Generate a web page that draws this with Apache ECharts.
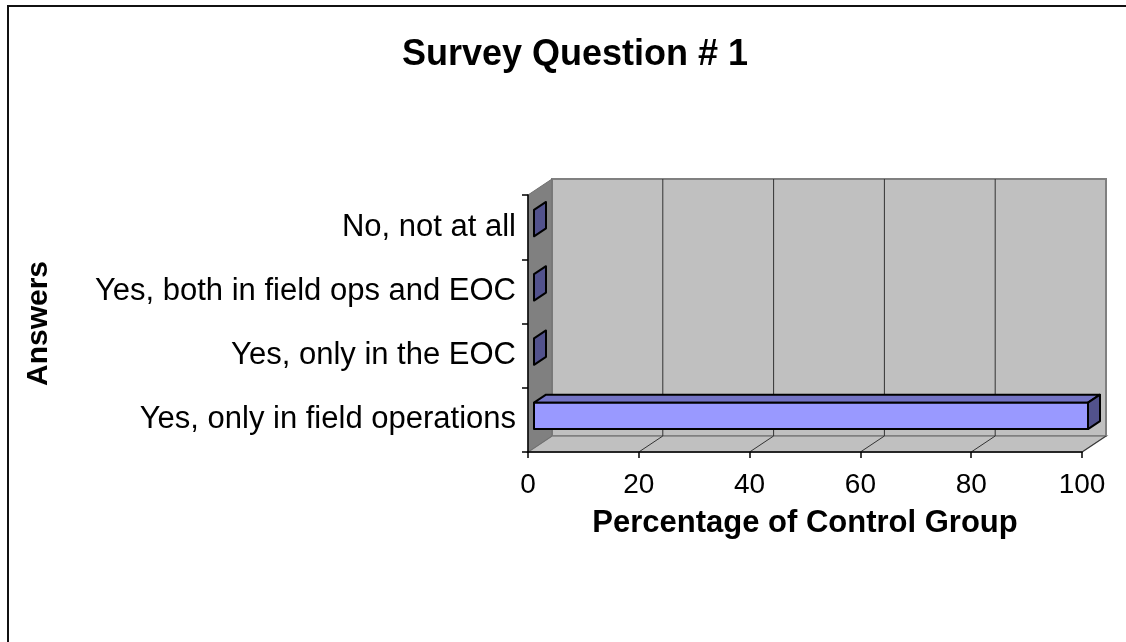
<!DOCTYPE html>
<html>
<head>
<meta charset="utf-8">
<title>Survey Question # 1</title>
<script src="https://cdn.jsdelivr.net/npm/echarts@6/dist/echarts.min.js"></script>
<style>
  html, body { margin: 0; padding: 0; background: #ffffff; }
  #chart { width: 1126px; height: 642px; }
</style>
</head>
<body>
<div id="chart"></div>
<script>
// Answer categories, listed bottom to top on the vertical axis
const categories = [
  'Yes, only in field operations',
  'Yes, only in the EOC',
  'Yes, both in field ops and EOC',
  'No, not at all'
];
// Percentage of the control group giving each answer
const percentages = [100, 0, 0, 0];
// Value axis ticks
const valueTicks = [0, 20, 40, 60, 80, 100];

const FONT = "'Liberation Sans', Arial, Helvetica, sans-serif";
// Depth of the 3-D box (offset of the back plane from the front plane)
const DEPTH_X = 24;
const DEPTH_Y = -16;
// Front and back of each bar as fractions of the box depth
const BAR_FRONT = 0.25;
const BAR_BACK = 0.75;
const BAR_THICKNESS = 0.41;

const chart = echarts.init(document.getElementById('chart'), null, { renderer: 'canvas' });

// Walls, floor and gridlines of the 3-D plot box
function renderWalls(params, api) {
  const cs = params.coordSys;
  const x0 = cs.x, x1 = cs.x + cs.width;
  const yT = cs.y, yB = cs.y + cs.height;
  const children = [];
  // back wall
  children.push({
    type: 'rect',
    shape: { x: x0 + DEPTH_X, y: yT + DEPTH_Y, width: x1 - x0, height: yB - yT },
    style: { fill: '#c0c0c0', stroke: '#808080', lineWidth: 2 }
  });
  // floor
  children.push({
    type: 'polygon',
    shape: { points: [[x0, yB], [x0 + DEPTH_X, yB + DEPTH_Y], [x1 + DEPTH_X, yB + DEPTH_Y], [x1, yB]] },
    style: { fill: '#c0c0c0', stroke: '#808080', lineWidth: 1.5 }
  });
  // side wall
  children.push({
    type: 'polygon',
    shape: { points: [[x0, yT], [x0 + DEPTH_X, yT + DEPTH_Y], [x0 + DEPTH_X, yB + DEPTH_Y], [x0, yB]] },
    style: { fill: '#808080', stroke: '#707070', lineWidth: 1 }
  });
  // gridlines on the back wall and across the floor
  valueTicks.forEach(function (v) {
    const x = api.coord([v, 0])[0];
    if (v > valueTicks[0] && v < valueTicks[valueTicks.length - 1]) {
      children.push({
        type: 'line',
        shape: { x1: x + DEPTH_X, y1: yT + DEPTH_Y, x2: x + DEPTH_X, y2: yB + DEPTH_Y },
        style: { stroke: '#333333', lineWidth: 1 }
      });
    }
    if (v > valueTicks[0]) {
      children.push({
        type: 'line',
        shape: { x1: x, y1: yB, x2: x + DEPTH_X, y2: yB + DEPTH_Y },
        style: { stroke: '#333333', lineWidth: 1 }
      });
    }
  });
  return { type: 'group', children: children };
}

// One 3-D bar: front face, top face and end face
function renderBar(params, api) {
  const value = api.value(0);
  const cat = api.value(1);
  const start = api.coord([0, cat]);
  const end = api.coord([value, cat]);
  const band = api.size([0, 1])[1];
  const h = band * BAR_THICKNESS;
  const fx = DEPTH_X * BAR_FRONT, fy = DEPTH_Y * BAR_FRONT;
  const dx = DEPTH_X * (BAR_BACK - BAR_FRONT), dy = DEPTH_Y * (BAR_BACK - BAR_FRONT);
  const xa = start[0] + fx, xb = end[0] + fx;
  const yt = start[1] + fy - h / 2, yb = start[1] + fy + h / 2;
  const edge = { stroke: '#000000', lineWidth: 2, lineJoin: 'round' };
  const children = [];
  if (xb - xa > 0.5) {
    children.push({
      type: 'polygon',
      shape: { points: [[xa, yt], [xb, yt], [xb + dx, yt + dy], [xa + dx, yt + dy]] },
      style: Object.assign({ fill: '#7474c4' }, edge)
    });
    children.push({
      type: 'rect',
      shape: { x: xa, y: yt, width: xb - xa, height: yb - yt },
      style: Object.assign({ fill: '#9999ff' }, edge)
    });
  }
  children.push({
    type: 'polygon',
    shape: { points: [[xb, yt], [xb + dx, yt + dy], [xb + dx, yb + dy], [xb, yb]] },
    style: Object.assign({ fill: '#52528c' }, edge)
  });
  return { type: 'group', children: children };
}

const option = {
  animation: false,
  backgroundColor: '#ffffff',
  textStyle: { fontFamily: FONT },
  title: {
    text: 'Survey Question # 1',
    left: 570,
    top: 32,
    textAlign: 'center',
    textStyle: { fontFamily: FONT, fontSize: 36, fontWeight: 'bold', color: '#000000' }
  },
  graphic: [{
    type: 'rect',
    silent: true,
    shape: { x: 8, y: 6, width: 1200, height: 700 },
    style: { fill: 'none', stroke: '#111111', lineWidth: 2 }
  }],
  grid: { left: 528, right: 44, top: 195, bottom: 190, containLabel: false },
  xAxis: {
    type: 'value',
    min: 0,
    max: 100,
    interval: 20,
    z: 10,
    name: 'Percentage of Control Group',
    nameLocation: 'middle',
    nameGap: 56,
    nameTextStyle: { fontFamily: FONT, fontSize: 31, fontWeight: 'bold', color: '#000000' },
    axisLine: { show: true, lineStyle: { color: '#000000', width: 1.5 } },
    axisTick: { show: true, length: 6, lineStyle: { color: '#000000', width: 1.5 } },
    axisLabel: { fontFamily: FONT, fontSize: 28, color: '#000000', margin: 19 },
    splitLine: { show: false }
  },
  yAxis: {
    type: 'category',
    data: categories,
    z: 10,
    name: 'Answers',
    nameLocation: 'middle',
    nameGap: 474,
    nameRotate: 90,
    nameTextStyle: { fontFamily: FONT, fontSize: 30, fontWeight: 'bold', color: '#000000' },
    axisLine: { show: true, lineStyle: { color: '#000000', width: 1.5 } },
    axisTick: { show: true, length: 6, lineStyle: { color: '#000000', width: 1.5 } },
    axisLabel: { fontFamily: FONT, fontSize: 31, color: '#000000', margin: 12 },
    splitLine: { show: false }
  },
  series: [
    {
      type: 'custom',
      name: 'walls',
      silent: true,
      z: 1,
      renderItem: renderWalls,
      data: [[0, 0]]
    },
    {
      type: 'custom',
      name: 'Percentage',
      z: 3,
      renderItem: renderBar,
      encode: { x: 0, y: 1 },
      data: percentages.map(function (v, i) { return [v, i]; })
    }
  ]
};

chart.setOption(option);
</script>
</body>
</html>
